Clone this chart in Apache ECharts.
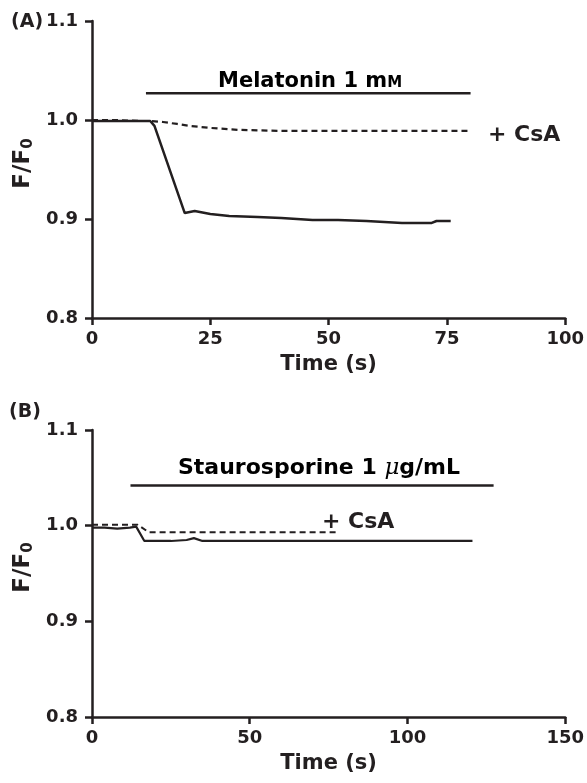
<!DOCTYPE html>
<html>
<head>
<meta charset="utf-8">
<script src="https://cdn.jsdelivr.net/npm/echarts@6/dist/echarts.min.js"></script>
<style>
  html, body { margin: 0; padding: 0; background: #fff; }
  #chart { width: 587px; height: 783px; }
</style>
</head>
<body>
<div id="chart"></div>
<script>
// panel A: melatonin
var timeA = [0, 5, 10, 12.3, 13.2, 19.6, 21.7, 25, 29, 35, 40, 46.6, 52, 58, 65.5, 71.8, 72.8, 75.8];
var melatonin = [0.999, 0.999, 0.999, 0.999, 0.994, 0.906, 0.908, 0.905, 0.903, 0.902, 0.901, 0.899, 0.899, 0.898, 0.896, 0.896, 0.898, 0.898];
var timeACsA = [0, 5, 10, 12.5, 15, 18, 20.6, 25, 31, 40, 50, 60, 70, 80];
var melatoninCsA = [1.0, 1.0, 0.999, 0.999, 0.998, 0.996, 0.994, 0.992, 0.990, 0.989, 0.989, 0.989, 0.989, 0.989];
var barA = [[11.4, 1.027], [80, 1.027]];

// panel B: staurosporine
var timeB = [0, 4, 8, 12, 14, 16.6, 20, 25, 30, 32.3, 35, 40, 60, 80, 100, 120.6];
var stauro = [0.998, 0.998, 0.997, 0.998, 0.999, 0.984, 0.984, 0.984, 0.985, 0.987, 0.984, 0.984, 0.984, 0.984, 0.984, 0.984];
var timeBCsA = [0, 5, 10, 14.5, 18, 25, 40, 60, 78];
var stauroCsA = [1.001, 1.001, 1.001, 1.001, 0.993, 0.993, 0.993, 0.993, 0.993];
var barB = [[12.2, 1.042], [127.3, 1.042]];

var yTicks = [0.8, 0.9, 1.0, 1.1];

function pairs(t, v) {
  return t.map(function (x, i) { return [x, v[i]]; });
}

var ink = "#231f20";
var font = "DejaVu Sans";

function xAxis(grid, max, interval) {
  return {
    type: "value",
    gridIndex: grid,
    min: 0,
    max: max,
    interval: interval,
    name: "Time (s)",
    nameLocation: "middle",
    nameGap: 36,
    nameTextStyle: { color: ink, fontFamily: font, fontWeight: "bold", fontSize: 21 },
    axisLine: { show: true, onZero: false, lineStyle: { color: ink, width: 2.5 } },
    axisTick: { show: true, length: 7, lineStyle: { color: ink, width: 2.5 } },
    axisLabel: { color: ink, fontFamily: font, fontWeight: "bold", fontSize: 18, margin: 12 },
    splitLine: { show: false },
  };
}

function yAxis(grid) {
  return {
    type: "value",
    gridIndex: grid,
    min: yTicks[0],
    max: yTicks[yTicks.length - 1],
    interval: 0.1,
    name: "{a|F/F}{b|0}",
    nameLocation: "middle",
    nameGap: 51,
    nameTextStyle: {
      padding: [0, 0, 0, 12],
      rich: {
        a: { color: ink, fontFamily: font, fontWeight: "bold", fontSize: 23 },
        b: { color: ink, fontFamily: font, fontWeight: "bold", fontSize: 15, padding: [10, 0, 0, 0] },
      },
    },
    axisLine: { show: true, lineStyle: { color: ink, width: 2.5 } },
    axisTick: { show: true, length: 7, lineStyle: { color: ink, width: 2.5 } },
    axisLabel: {
      color: ink, fontFamily: font, fontWeight: "bold", fontSize: 18, margin: 14,
      formatter: function (v) { return v.toFixed(1); },
    },
    splitLine: { show: false },
  };
}

function line(xi, data, dashed, width) {
  return {
    type: "line",
    xAxisIndex: xi,
    yAxisIndex: xi,
    data: data,
    symbol: "none",
    silent: true,
    lineStyle: { color: ink, width: width, type: dashed ? [6, 4] : "solid" },
  };
}

var txt = { fill: ink, fontFamily: font, fontWeight: "bold" };

var option = {
  animation: false,
  backgroundColor: "#fff",
  grid: [
    { left: 92, right: 20, top: 21, height: 297 },
    { left: 92, right: 17, top: 430, height: 287 },
  ],
  xAxis: [xAxis(0, 100, 25), xAxis(1, 150, 50)],
  yAxis: [yAxis(0), yAxis(1)],
  series: [
    line(0, pairs(timeA, melatonin), false, 2.5),
    line(0, pairs(timeACsA, melatoninCsA), true, 2.2),
    line(0, barA, false, 2.5),
    line(1, pairs(timeB, stauro), false, 2.2),
    line(1, pairs(timeBCsA, stauroCsA), true, 2),
    line(1, barB, false, 2.5),
  ],
  graphic: [
    { type: "text", left: 11, top: 13, style: Object.assign({ text: "(A)", fontSize: 19 }, txt) },
    { type: "text", left: 9, top: 403, style: Object.assign({ text: "(B)", fontSize: 19 }, txt) },
    {
      type: "text", left: 218, top: 71,
      style: {
        text: "{a|Melatonin 1 m}{b|M}",
        rich: {
          a: { color: ink, fontFamily: font, fontWeight: "bold", fontSize: 21 },
          b: { color: ink, fontFamily: font, fontWeight: "bold", fontSize: 15, padding: [4, 0, 0, 0] },
        },
      },
    },
    { type: "text", left: 488, top: 124, style: Object.assign({ text: "+ CsA", fontSize: 22 }, txt) },
    {
      type: "text", left: 178, top: 457,
      style: {
        text: "{a|Staurosporine 1 }{m|\u03bc}{a|g/mL}",
        rich: {
          a: { color: ink, fontFamily: font, fontWeight: "bold", fontSize: 22 },
          m: { color: ink, fontFamily: "DejaVu Serif", fontStyle: "italic", fontSize: 23 },
        },
      },
    },
    { type: "text", left: 322, top: 511, style: Object.assign({ text: "+ CsA", fontSize: 22 }, txt) },
  ],
};

var chart = echarts.init(document.getElementById("chart"));
chart.setOption(option);
</script>
</body>
</html>
